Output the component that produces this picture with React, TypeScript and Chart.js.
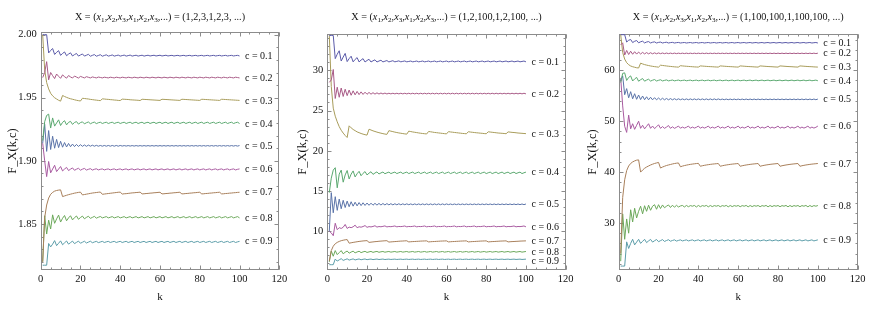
import React, { useEffect, useRef } from "react";
import { Chart, registerables } from "chart.js";

Chart.register(...registerables);

// ---------- data (k = 1..100) ----------
const P1_C01 = [
  2.0, 2.0, 2.0, 1.9855, 1.9875, 1.989, 1.9843, 1.986, 1.9873, 1.9836,
  1.9851, 1.9863, 1.9833, 1.9846, 1.9856, 1.9831, 1.9842, 1.9851, 1.983, 1.9839,
  1.9847, 1.983, 1.9837, 1.9844, 1.9829, 1.9836, 1.9842, 1.9829, 1.9835, 1.9841,
  1.9829, 1.9835, 1.984, 1.983, 1.9834, 1.9839, 1.983, 1.9834, 1.9838, 1.983,
  1.9834, 1.9838, 1.983, 1.9834, 1.9838, 1.983, 1.9834, 1.9837, 1.983, 1.9834,
  1.9837, 1.983, 1.9834, 1.9837, 1.9831, 1.9834, 1.9837, 1.9831, 1.9834, 1.9837,
  1.9831, 1.9834, 1.9837, 1.9831, 1.9834, 1.9836, 1.9831, 1.9834, 1.9836, 1.9831,
  1.9834, 1.9836, 1.9831, 1.9834, 1.9836, 1.9831, 1.9834, 1.9836, 1.9831, 1.9834,
  1.9836, 1.9831, 1.9834, 1.9836, 1.9831, 1.9834, 1.9836, 1.9831, 1.9834, 1.9836,
  1.9831, 1.9834, 1.9836, 1.9831, 1.9834, 1.9836, 1.9831, 1.9834, 1.9836, 1.9831,
];
const P1_C02 = [
  1.966, 1.97, 1.9786, 1.9642, 1.97, 1.9675, 1.9652, 1.9688, 1.967, 1.9654,
  1.9681, 1.9667, 1.9655, 1.9676, 1.9665, 1.9656, 1.9672, 1.9664, 1.9656, 1.9669,
  1.9663, 1.9657, 1.9667, 1.9662, 1.9657, 1.9665, 1.9661, 1.9657, 1.9664, 1.9661,
  1.9657, 1.9663, 1.966, 1.9657, 1.9663, 1.966, 1.9657, 1.9663, 1.966, 1.9657,
  1.9663, 1.966, 1.9657, 1.9663, 1.966, 1.9657, 1.9663, 1.966, 1.9657, 1.9663,
  1.966, 1.9657, 1.9663, 1.966, 1.9657, 1.9663, 1.966, 1.9657, 1.9663, 1.966,
  1.9657, 1.9663, 1.966, 1.9657, 1.9663, 1.966, 1.9657, 1.9663, 1.966, 1.9657,
  1.9663, 1.966, 1.9657, 1.9663, 1.966, 1.9657, 1.9663, 1.966, 1.9657, 1.9663,
  1.966, 1.9657, 1.9663, 1.966, 1.9657, 1.9663, 1.966, 1.9657, 1.9663, 1.966,
  1.9657, 1.9663, 1.966, 1.9657, 1.9663, 1.966, 1.9657, 1.9663, 1.966, 1.9657,
];
const P1_C03 = [
  2.0, 1.972, 1.962, 1.957, 1.9535, 1.9515, 1.95, 1.949, 1.948, 1.9473,
  1.9518, 1.951, 1.9503, 1.9497, 1.9492, 1.9488, 1.9484, 1.948, 1.9477, 1.9474,
  1.9496, 1.9494, 1.9492, 1.949, 1.9487, 1.9485, 1.9483, 1.9481, 1.9479, 1.9477,
  1.9491, 1.949, 1.9488, 1.9487, 1.9485, 1.9484, 1.9482, 1.9481, 1.9479, 1.9478,
  1.9489, 1.9488, 1.9487, 1.9486, 1.9484, 1.9483, 1.9482, 1.9481, 1.948, 1.9478,
  1.9488, 1.9487, 1.9486, 1.9485, 1.9484, 1.9483, 1.9482, 1.9481, 1.948, 1.9479,
  1.9488, 1.9487, 1.9486, 1.9485, 1.9484, 1.9483, 1.9482, 1.9481, 1.948, 1.9479,
  1.9488, 1.9487, 1.9486, 1.9485, 1.9484, 1.9483, 1.9482, 1.9481, 1.948, 1.9479,
  1.9488, 1.9487, 1.9486, 1.9485, 1.9484, 1.9483, 1.9482, 1.9481, 1.948, 1.9479,
  1.9488, 1.9487, 1.9486, 1.9485, 1.9484, 1.9483, 1.9482, 1.9481, 1.948, 1.9479,
];
const P1_C04 = [
  1.916, 1.931, 1.936, 1.937, 1.926, 1.934, 1.9275, 1.93, 1.9325, 1.928,
  1.9305, 1.9318, 1.9285, 1.9305, 1.9313, 1.9289, 1.9304, 1.9311, 1.9291, 1.9303,
  1.9309, 1.9293, 1.9302, 1.9308, 1.9294, 1.9302, 1.9307, 1.9295, 1.9302, 1.9306,
  1.9296, 1.9302, 1.9306, 1.9296, 1.9302, 1.9306, 1.9296, 1.9302, 1.9306, 1.9296,
  1.9302, 1.9306, 1.9296, 1.9302, 1.9306, 1.9296, 1.9302, 1.9306, 1.9296, 1.9302,
  1.9306, 1.9296, 1.9302, 1.9306, 1.9296, 1.9302, 1.9306, 1.9296, 1.9302, 1.9306,
  1.9296, 1.9302, 1.9306, 1.9296, 1.9302, 1.9306, 1.9296, 1.9302, 1.9306, 1.9296,
  1.9302, 1.9306, 1.9296, 1.9302, 1.9306, 1.9296, 1.9302, 1.9306, 1.9296, 1.9302,
  1.9306, 1.9296, 1.9302, 1.9306, 1.9296, 1.9302, 1.9306, 1.9296, 1.9302, 1.9306,
  1.9296, 1.9302, 1.9306, 1.9296, 1.9302, 1.9306, 1.9296, 1.9302, 1.9306, 1.9296,
];
const P1_C05 = [
  1.914, 1.929, 1.9075, 1.924, 1.909, 1.9195, 1.91, 1.917, 1.9105, 1.9155,
  1.9108, 1.9145, 1.911, 1.9138, 1.9112, 1.9133, 1.9113, 1.913, 1.9114, 1.9128,
  1.9115, 1.9126, 1.9115, 1.9125, 1.9116, 1.9124, 1.9116, 1.9123, 1.9116, 1.9122,
  1.9116, 1.9122, 1.9116, 1.9122, 1.9116, 1.9122, 1.9116, 1.9122, 1.9116, 1.9122,
  1.9117, 1.9121, 1.9117, 1.9121, 1.9117, 1.9121, 1.9117, 1.9121, 1.9117, 1.9121,
  1.9117, 1.9121, 1.9117, 1.9121, 1.9117, 1.9121, 1.9117, 1.9121, 1.9117, 1.9121,
  1.9117, 1.9121, 1.9117, 1.9121, 1.9117, 1.9121, 1.9117, 1.9121, 1.9117, 1.9121,
  1.9117, 1.9121, 1.9117, 1.9121, 1.9117, 1.9121, 1.9117, 1.9121, 1.9117, 1.9121,
  1.9117, 1.9121, 1.9117, 1.9121, 1.9117, 1.9121, 1.9117, 1.9121, 1.9117, 1.9121,
  1.9117, 1.9121, 1.9117, 1.9121, 1.9117, 1.9121, 1.9117, 1.9121, 1.9117, 1.9121,
];
const P1_C06 = [
  1.914, 1.9, 1.8875, 1.8995, 1.8905, 1.8935, 1.8965, 1.8915, 1.8935, 1.8955,
  1.892, 1.8935, 1.8948, 1.8923, 1.8934, 1.8944, 1.8925, 1.8934, 1.8941, 1.8926,
  1.8934, 1.894, 1.8927, 1.8933, 1.8938, 1.8927, 1.8933, 1.8937, 1.8928, 1.8933,
  1.8936, 1.8928, 1.8933, 1.8936, 1.8928, 1.8933, 1.8936, 1.8928, 1.8933, 1.8936,
  1.8928, 1.8933, 1.8936, 1.8928, 1.8933, 1.8936, 1.8928, 1.8933, 1.8936, 1.8928,
  1.8933, 1.8936, 1.8928, 1.8933, 1.8936, 1.8928, 1.8933, 1.8936, 1.8928, 1.8933,
  1.8936, 1.8928, 1.8933, 1.8936, 1.8928, 1.8933, 1.8936, 1.8928, 1.8933, 1.8936,
  1.8928, 1.8933, 1.8936, 1.8928, 1.8933, 1.8936, 1.8928, 1.8933, 1.8936, 1.8928,
  1.8933, 1.8936, 1.8928, 1.8933, 1.8936, 1.8928, 1.8933, 1.8936, 1.8928, 1.8933,
  1.8936, 1.8928, 1.8933, 1.8936, 1.8928, 1.8933, 1.8936, 1.8928, 1.8933, 1.8936,
];
const P1_C07 = [
  1.82, 1.855, 1.865, 1.8705, 1.8735, 1.875, 1.876, 1.8765, 1.8768, 1.877,
  1.8717, 1.8722, 1.8727, 1.8732, 1.8736, 1.874, 1.8744, 1.8747, 1.875, 1.8752,
  1.873, 1.8733, 1.8736, 1.8739, 1.8742, 1.8745, 1.8747, 1.8749, 1.8751, 1.8753,
  1.8735, 1.8737, 1.8739, 1.8741, 1.8743, 1.8745, 1.8747, 1.8749, 1.8751, 1.8752,
  1.8737, 1.8739, 1.874, 1.8742, 1.8744, 1.8746, 1.8747, 1.8749, 1.875, 1.8752,
  1.8738, 1.8739, 1.8741, 1.8742, 1.8744, 1.8745, 1.8747, 1.8748, 1.875, 1.8751,
  1.8738, 1.8739, 1.8741, 1.8742, 1.8744, 1.8745, 1.8747, 1.8748, 1.875, 1.8751,
  1.8738, 1.8739, 1.8741, 1.8742, 1.8744, 1.8745, 1.8747, 1.8748, 1.875, 1.8751,
  1.8738, 1.8739, 1.8741, 1.8742, 1.8744, 1.8745, 1.8747, 1.8748, 1.875, 1.8751,
  1.8738, 1.8739, 1.8741, 1.8742, 1.8744, 1.8745, 1.8747, 1.8748, 1.875, 1.8751,
];
const P1_C08 = [
  1.82, 1.8565, 1.842, 1.853, 1.846, 1.8572, 1.8505, 1.854, 1.857, 1.8515,
  1.8545, 1.8567, 1.8525, 1.8548, 1.8565, 1.8532, 1.855, 1.8563, 1.8537, 1.8551,
  1.8562, 1.8541, 1.8552, 1.8561, 1.8544, 1.8552, 1.856, 1.8546, 1.8553, 1.8559,
  1.8548, 1.8553, 1.8558, 1.8548, 1.8553, 1.8558, 1.8548, 1.8553, 1.8558, 1.8548,
  1.8553, 1.8558, 1.8548, 1.8553, 1.8558, 1.8548, 1.8553, 1.8558, 1.8548, 1.8553,
  1.8558, 1.8548, 1.8553, 1.8558, 1.8548, 1.8553, 1.8558, 1.8548, 1.8553, 1.8558,
  1.8548, 1.8553, 1.8558, 1.8548, 1.8553, 1.8558, 1.8548, 1.8553, 1.8558, 1.8548,
  1.8553, 1.8558, 1.8548, 1.8553, 1.8558, 1.8548, 1.8553, 1.8558, 1.8548, 1.8553,
  1.8558, 1.8548, 1.8553, 1.8558, 1.8548, 1.8553, 1.8558, 1.8548, 1.8553, 1.8558,
  1.8548, 1.8553, 1.8558, 1.8548, 1.8553, 1.8558, 1.8548, 1.8553, 1.8558, 1.8548,
];
const P1_C09 = [
  1.8173, 1.8173, 1.8173, 1.8345, 1.8318, 1.834, 1.8368, 1.8328, 1.8347, 1.8366,
  1.8335, 1.835, 1.8365, 1.834, 1.8352, 1.8364, 1.8344, 1.8354, 1.8364, 1.8347,
  1.8355, 1.8363, 1.8349, 1.8356, 1.8363, 1.8351, 1.8357, 1.8362, 1.8352, 1.8357,
  1.8362, 1.8353, 1.8358, 1.8362, 1.8353, 1.8358, 1.8362, 1.8353, 1.8358, 1.8362,
  1.8353, 1.8358, 1.8362, 1.8353, 1.8358, 1.8362, 1.8353, 1.8358, 1.8362, 1.8353,
  1.8358, 1.8362, 1.8353, 1.8358, 1.8362, 1.8353, 1.8358, 1.8362, 1.8353, 1.8358,
  1.8362, 1.8353, 1.8358, 1.8362, 1.8353, 1.8358, 1.8362, 1.8353, 1.8358, 1.8362,
  1.8353, 1.8358, 1.8362, 1.8353, 1.8358, 1.8362, 1.8353, 1.8358, 1.8362, 1.8353,
  1.8358, 1.8362, 1.8353, 1.8358, 1.8362, 1.8353, 1.8358, 1.8362, 1.8353, 1.8358,
  1.8362, 1.8353, 1.8358, 1.8362, 1.8353, 1.8358, 1.8362, 1.8353, 1.8358, 1.8362,
];

const P2_C01 = [
  34.33, 34.33, 34.33, 31.45, 32.0, 32.43, 31.15, 31.65, 32.1, 31.08,
  31.45, 31.75, 31.05, 31.35, 31.58, 31.04, 31.27, 31.45, 31.03, 31.22,
  31.37, 31.03, 31.18, 31.3, 31.03, 31.15, 31.25, 31.04, 31.13, 31.21,
  31.04, 31.12, 31.19, 31.05, 31.11, 31.17, 31.05, 31.11, 31.16, 31.05,
  31.1, 31.15, 31.05, 31.1, 31.15, 31.05, 31.1, 31.15, 31.05, 31.1,
  31.15, 31.05, 31.1, 31.15, 31.05, 31.1, 31.15, 31.05, 31.1, 31.15,
  31.05, 31.1, 31.15, 31.05, 31.1, 31.15, 31.05, 31.1, 31.15, 31.05,
  31.1, 31.15, 31.05, 31.1, 31.15, 31.05, 31.1, 31.15, 31.05, 31.1,
  31.15, 31.05, 31.1, 31.15, 31.05, 31.1, 31.15, 31.05, 31.1, 31.15,
  31.05, 31.1, 31.15, 31.05, 31.1, 31.15, 31.05, 31.1, 31.15, 31.05,
];
const P2_C02 = [
  28.5, 28.8, 30.1, 26.5, 27.9, 26.65, 27.8, 26.75, 27.65, 26.85,
  27.55, 26.9, 27.45, 26.95, 27.38, 26.98, 27.32, 27.0, 27.28, 27.02,
  27.25, 27.03, 27.22, 27.04, 27.2, 27.05, 27.18, 27.06, 27.17, 27.06,
  27.15, 27.07, 27.15, 27.07, 27.15, 27.07, 27.15, 27.07, 27.15, 27.07,
  27.15, 27.07, 27.15, 27.07, 27.15, 27.07, 27.15, 27.07, 27.15, 27.07,
  27.15, 27.07, 27.15, 27.07, 27.15, 27.07, 27.15, 27.07, 27.15, 27.07,
  27.15, 27.07, 27.15, 27.07, 27.15, 27.07, 27.15, 27.07, 27.15, 27.07,
  27.15, 27.07, 27.15, 27.07, 27.15, 27.07, 27.15, 27.07, 27.15, 27.07,
  27.15, 27.07, 27.15, 27.07, 27.15, 27.07, 27.15, 27.07, 27.15, 27.07,
  27.15, 27.07, 27.15, 27.07, 27.15, 27.07, 27.15, 27.07, 27.15, 27.07,
];
const P2_C03 = [
  34.33, 28.0, 25.3, 24.3, 23.6, 23.0, 22.55, 22.2, 21.9, 21.65,
  23.1, 22.85, 22.65, 22.5, 22.35, 22.25, 22.15, 22.07, 22.0, 21.95,
  22.68, 22.58, 22.48, 22.4, 22.32, 22.25, 22.19, 22.13, 22.08, 22.04,
  22.5, 22.44, 22.38, 22.32, 22.27, 22.22, 22.18, 22.14, 22.1, 22.07,
  22.44, 22.39, 22.34, 22.3, 22.26, 22.22, 22.18, 22.15, 22.12, 22.09,
  22.4, 22.36, 22.32, 22.28, 22.25, 22.22, 22.19, 22.16, 22.13, 22.1,
  22.38, 22.34, 22.31, 22.28, 22.25, 22.22, 22.19, 22.16, 22.14, 22.11,
  22.37, 22.33, 22.3, 22.27, 22.24, 22.22, 22.19, 22.17, 22.14, 22.12,
  22.36, 22.33, 22.3, 22.27, 22.24, 22.21, 22.19, 22.17, 22.15, 22.12,
  22.35, 22.32, 22.29, 22.27, 22.24, 22.21, 22.19, 22.17, 22.15, 22.13,
];
const P2_C04 = [
  14.8, 16.6, 17.6, 17.9, 15.4, 17.1, 17.6, 16.1, 17.0, 17.55,
  16.5, 17.1, 17.5, 16.75, 17.15, 17.45, 16.9, 17.2, 17.42, 17.0,
  17.22, 17.4, 17.07, 17.24, 17.38, 17.12, 17.25, 17.36, 17.15, 17.26,
  17.35, 17.17, 17.27, 17.35, 17.17, 17.27, 17.35, 17.17, 17.27, 17.35,
  17.17, 17.27, 17.35, 17.17, 17.27, 17.35, 17.17, 17.27, 17.35, 17.17,
  17.27, 17.35, 17.17, 17.27, 17.35, 17.17, 17.27, 17.35, 17.17, 17.27,
  17.35, 17.17, 17.27, 17.35, 17.17, 17.27, 17.35, 17.17, 17.27, 17.35,
  17.17, 17.27, 17.35, 17.17, 17.27, 17.35, 17.17, 17.27, 17.35, 17.17,
  17.27, 17.35, 17.17, 17.27, 17.35, 17.17, 17.27, 17.35, 17.17, 17.27,
  17.35, 17.17, 17.27, 17.35, 17.17, 17.27, 17.35, 17.17, 17.27, 17.35,
];
const P2_C05 = [
  10.0, 14.8, 12.3, 14.3, 12.6, 14.0, 12.8, 13.85, 12.95, 13.75,
  13.05, 13.67, 13.12, 13.61, 13.16, 13.57, 13.19, 13.54, 13.21, 13.51,
  13.23, 13.49, 13.24, 13.47, 13.25, 13.46, 13.26, 13.45, 13.27, 13.44,
  13.28, 13.43, 13.28, 13.42, 13.29, 13.42, 13.29, 13.41, 13.3, 13.41,
  13.3, 13.4, 13.3, 13.4, 13.3, 13.4, 13.3, 13.4, 13.3, 13.4,
  13.3, 13.4, 13.3, 13.4, 13.3, 13.4, 13.3, 13.4, 13.3, 13.4,
  13.31, 13.39, 13.31, 13.39, 13.31, 13.39, 13.31, 13.39, 13.31, 13.39,
  13.31, 13.39, 13.31, 13.39, 13.31, 13.39, 13.31, 13.39, 13.31, 13.39,
  13.31, 13.39, 13.31, 13.39, 13.31, 13.39, 13.31, 13.39, 13.31, 13.39,
  13.31, 13.39, 13.31, 13.39, 13.31, 13.39, 13.31, 13.39, 13.31, 13.39,
];
const P2_C06 = [
  10.0, 9.8, 9.45, 11.0, 10.2, 10.45, 10.35, 10.5, 10.85, 10.35,
  10.52, 10.45, 10.56, 10.76, 10.44, 10.56, 10.51, 10.59, 10.71, 10.49,
  10.58, 10.54, 10.6, 10.69, 10.52, 10.59, 10.56, 10.61, 10.67, 10.54,
  10.59, 10.57, 10.61, 10.66, 10.55, 10.6, 10.58, 10.61, 10.66, 10.55,
  10.6, 10.58, 10.61, 10.66, 10.55, 10.6, 10.58, 10.61, 10.66, 10.55,
  10.6, 10.58, 10.61, 10.66, 10.55, 10.6, 10.58, 10.61, 10.66, 10.55,
  10.6, 10.58, 10.61, 10.66, 10.55, 10.6, 10.58, 10.61, 10.66, 10.55,
  10.6, 10.58, 10.61, 10.66, 10.55, 10.6, 10.58, 10.61, 10.66, 10.55,
  10.6, 10.58, 10.61, 10.66, 10.55, 10.6, 10.58, 10.61, 10.66, 10.55,
  10.6, 10.58, 10.61, 10.66, 10.55, 10.6, 10.58, 10.61, 10.66, 10.55,
];
const P2_C07 = [
  6.3, 7.6, 8.15, 8.45, 8.62, 8.74, 8.83, 8.89, 8.94, 8.97,
  8.52, 8.57, 8.62, 8.66, 8.7, 8.74, 8.77, 8.8, 8.82, 8.84,
  8.62, 8.65, 8.68, 8.71, 8.73, 8.76, 8.78, 8.8, 8.82, 8.83,
  8.66, 8.68, 8.7, 8.72, 8.74, 8.76, 8.78, 8.79, 8.81, 8.82,
  8.68, 8.7, 8.72, 8.73, 8.75, 8.76, 8.78, 8.79, 8.8, 8.81,
  8.68, 8.7, 8.72, 8.73, 8.75, 8.76, 8.78, 8.79, 8.8, 8.81,
  8.68, 8.7, 8.72, 8.73, 8.75, 8.76, 8.78, 8.79, 8.8, 8.81,
  8.68, 8.7, 8.72, 8.73, 8.75, 8.76, 8.78, 8.79, 8.8, 8.81,
  8.68, 8.7, 8.72, 8.73, 8.75, 8.76, 8.78, 8.79, 8.8, 8.81,
  8.68, 8.7, 8.72, 8.73, 8.75, 8.76, 8.78, 8.79, 8.8, 8.81,
];
const P2_C08 = [
  6.2, 7.55, 6.9, 7.6, 7.1, 7.35, 7.6, 7.2, 7.4, 7.55,
  7.28, 7.42, 7.53, 7.32, 7.43, 7.52, 7.35, 7.44, 7.51, 7.37,
  7.44, 7.5, 7.38, 7.45, 7.5, 7.39, 7.45, 7.49, 7.4, 7.45,
  7.49, 7.41, 7.45, 7.49, 7.41, 7.45, 7.49, 7.41, 7.45, 7.49,
  7.41, 7.45, 7.49, 7.41, 7.45, 7.49, 7.41, 7.45, 7.49, 7.41,
  7.45, 7.49, 7.41, 7.45, 7.49, 7.41, 7.45, 7.49, 7.41, 7.45,
  7.49, 7.41, 7.45, 7.49, 7.41, 7.45, 7.49, 7.41, 7.45, 7.49,
  7.41, 7.45, 7.49, 7.41, 7.45, 7.49, 7.41, 7.45, 7.49, 7.41,
  7.45, 7.49, 7.41, 7.45, 7.49, 7.41, 7.45, 7.49, 7.41, 7.45,
  7.49, 7.41, 7.45, 7.49, 7.41, 7.45, 7.49, 7.41, 7.45, 7.49,
];
const P2_C09 = [
  5.85, 5.85, 5.85, 6.55, 6.3, 6.45, 6.6, 6.38, 6.48, 6.58,
  6.42, 6.5, 6.57, 6.44, 6.51, 6.56, 6.46, 6.52, 6.56, 6.47,
  6.52, 6.55, 6.48, 6.52, 6.55, 6.49, 6.52, 6.55, 6.49, 6.52,
  6.54, 6.5, 6.52, 6.54, 6.5, 6.52, 6.54, 6.5, 6.52, 6.54,
  6.5, 6.52, 6.54, 6.5, 6.52, 6.54, 6.5, 6.52, 6.54, 6.5,
  6.52, 6.54, 6.5, 6.52, 6.54, 6.5, 6.52, 6.54, 6.5, 6.52,
  6.54, 6.5, 6.52, 6.54, 6.5, 6.52, 6.54, 6.5, 6.52, 6.54,
  6.5, 6.52, 6.54, 6.5, 6.52, 6.54, 6.5, 6.52, 6.54, 6.5,
  6.52, 6.54, 6.5, 6.52, 6.54, 6.5, 6.52, 6.54, 6.5, 6.52,
  6.54, 6.5, 6.52, 6.54, 6.5, 6.52, 6.54, 6.5, 6.52, 6.54,
];

const P3_C01 = [
  67.0, 67.0, 67.0, 65.55, 65.9, 66.05, 65.45, 65.7, 65.85, 65.4,
  65.6, 65.72, 65.38, 65.55, 65.64, 65.37, 65.51, 65.58, 65.36, 65.48,
  65.54, 65.36, 65.46, 65.51, 65.36, 65.44, 65.49, 65.36, 65.43, 65.47,
  65.36, 65.42, 65.46, 65.36, 65.42, 65.46, 65.36, 65.42, 65.46, 65.36,
  65.42, 65.46, 65.36, 65.42, 65.46, 65.36, 65.42, 65.46, 65.36, 65.42,
  65.46, 65.36, 65.42, 65.46, 65.36, 65.42, 65.46, 65.36, 65.42, 65.46,
  65.36, 65.42, 65.46, 65.36, 65.42, 65.46, 65.36, 65.42, 65.46, 65.36,
  65.42, 65.46, 65.36, 65.42, 65.46, 65.36, 65.42, 65.46, 65.36, 65.42,
  65.46, 65.36, 65.42, 65.46, 65.36, 65.42, 65.46, 65.36, 65.42, 65.46,
  65.36, 65.42, 65.46, 65.36, 65.42, 65.46, 65.36, 65.42, 65.46, 65.36,
];
const P3_C02 = [
  65.0, 65.4, 63.0, 63.9, 63.1, 63.75, 63.15, 63.65, 63.18, 63.58,
  63.2, 63.52, 63.22, 63.48, 63.23, 63.45, 63.24, 63.43, 63.25, 63.41,
  63.26, 63.4, 63.26, 63.39, 63.27, 63.38, 63.27, 63.38, 63.27, 63.37,
  63.28, 63.37, 63.28, 63.37, 63.28, 63.37, 63.28, 63.37, 63.28, 63.37,
  63.28, 63.37, 63.28, 63.37, 63.28, 63.37, 63.28, 63.37, 63.28, 63.37,
  63.28, 63.37, 63.28, 63.37, 63.28, 63.37, 63.28, 63.37, 63.28, 63.37,
  63.28, 63.37, 63.28, 63.37, 63.28, 63.37, 63.28, 63.37, 63.28, 63.37,
  63.28, 63.37, 63.28, 63.37, 63.28, 63.37, 63.28, 63.37, 63.28, 63.37,
  63.28, 63.37, 63.28, 63.37, 63.28, 63.37, 63.28, 63.37, 63.28, 63.37,
  63.28, 63.37, 63.28, 63.37, 63.28, 63.37, 63.28, 63.37, 63.28, 63.37,
];
const P3_C03 = [
  67.0, 63.5, 62.2, 61.5, 61.1, 60.85, 60.7, 60.6, 60.5, 60.45,
  61.4, 61.25, 61.12, 61.02, 60.93, 60.85, 60.78, 60.72, 60.67, 60.62,
  61.0, 60.95, 60.9, 60.85, 60.8, 60.76, 60.72, 60.68, 60.65, 60.62,
  60.9, 60.86, 60.82, 60.79, 60.76, 60.73, 60.7, 60.67, 60.65, 60.63,
  60.86, 60.83, 60.8, 60.77, 60.74, 60.72, 60.7, 60.67, 60.65, 60.63,
  60.86, 60.83, 60.8, 60.77, 60.74, 60.72, 60.7, 60.67, 60.65, 60.63,
  60.86, 60.83, 60.8, 60.77, 60.74, 60.72, 60.7, 60.67, 60.65, 60.63,
  60.86, 60.83, 60.8, 60.77, 60.74, 60.72, 60.7, 60.67, 60.65, 60.63,
  60.86, 60.83, 60.8, 60.77, 60.74, 60.72, 60.7, 60.67, 60.65, 60.63,
  60.86, 60.83, 60.8, 60.77, 60.74, 60.72, 60.7, 60.67, 60.65, 60.63,
];
const P3_C04 = [
  57.6, 59.4, 59.5, 58.0, 58.6, 58.9, 57.9, 58.3, 58.6, 57.85,
  58.15, 58.38, 57.86, 58.08, 58.25, 57.88, 58.05, 58.18, 57.9, 58.03,
  58.14, 57.91, 58.02, 58.11, 57.92, 58.01, 58.09, 57.93, 58.01, 58.08,
  57.94, 58.01, 58.07, 57.94, 58.01, 58.07, 57.94, 58.01, 58.07, 57.94,
  58.01, 58.07, 57.94, 58.01, 58.07, 57.94, 58.01, 58.07, 57.94, 58.01,
  58.07, 57.94, 58.01, 58.07, 57.94, 58.01, 58.07, 57.94, 58.01, 58.07,
  57.94, 58.01, 58.07, 57.94, 58.01, 58.07, 57.94, 58.01, 58.07, 57.94,
  58.01, 58.07, 57.94, 58.01, 58.07, 57.94, 58.01, 58.07, 57.94, 58.01,
  58.07, 57.94, 58.01, 58.07, 57.94, 58.01, 58.07, 57.94, 58.01, 58.07,
  57.94, 58.01, 58.07, 57.94, 58.01, 58.07, 57.94, 58.01, 58.07, 57.94,
];
const P3_C05 = [
  58.0, 58.9, 55.2, 56.4, 54.6, 55.8, 54.4, 55.4, 54.3, 55.15,
  54.25, 54.95, 54.22, 54.8, 54.2, 54.7, 54.2, 54.62, 54.2, 54.56,
  54.2, 54.51, 54.2, 54.47, 54.2, 54.44, 54.2, 54.42, 54.2, 54.4,
  54.21, 54.38, 54.21, 54.38, 54.21, 54.38, 54.21, 54.38, 54.21, 54.38,
  54.21, 54.38, 54.21, 54.38, 54.21, 54.38, 54.21, 54.38, 54.21, 54.38,
  54.22, 54.35, 54.22, 54.35, 54.22, 54.35, 54.22, 54.35, 54.22, 54.35,
  54.22, 54.35, 54.22, 54.35, 54.22, 54.35, 54.22, 54.35, 54.22, 54.35,
  54.22, 54.35, 54.22, 54.35, 54.22, 54.35, 54.22, 54.35, 54.22, 54.35,
  54.22, 54.35, 54.22, 54.35, 54.22, 54.35, 54.22, 54.35, 54.22, 54.35,
  54.22, 54.35, 54.22, 54.35, 54.22, 54.35, 54.22, 54.35, 54.22, 54.35,
];
const P3_C06 = [
  58.5, 53.0, 49.0, 47.8, 51.2, 48.5, 49.5, 48.4, 49.2, 50.0,
  48.6, 49.2, 48.5, 49.0, 49.5, 48.6, 49.05, 48.55, 48.9, 49.3,
  48.6, 48.95, 48.6, 48.85, 49.15, 48.6, 48.9, 48.6, 48.8, 49.05,
  48.62, 48.85, 48.65, 48.8, 49.05, 48.62, 48.85, 48.65, 48.8, 49.05,
  48.62, 48.85, 48.65, 48.8, 49.05, 48.62, 48.85, 48.65, 48.8, 49.05,
  48.62, 48.85, 48.65, 48.8, 49.05, 48.62, 48.85, 48.65, 48.8, 49.05,
  48.62, 48.85, 48.65, 48.8, 49.05, 48.62, 48.85, 48.65, 48.8, 49.05,
  48.62, 48.85, 48.65, 48.8, 49.05, 48.62, 48.85, 48.65, 48.8, 49.05,
  48.62, 48.85, 48.65, 48.8, 49.05, 48.62, 48.85, 48.65, 48.8, 49.05,
  48.62, 48.85, 48.65, 48.8, 49.05, 48.62, 48.85, 48.65, 48.8, 49.05,
];
const P3_C07 = [
  24.0, 35.0, 38.5, 40.3, 41.2, 41.7, 42.0, 42.2, 42.35, 42.4,
  40.0, 40.4, 40.75, 41.0, 41.2, 41.4, 41.55, 41.7, 41.8, 41.9,
  40.8, 41.0, 41.15, 41.3, 41.4, 41.5, 41.6, 41.68, 41.75, 41.8,
  41.05, 41.18, 41.28, 41.37, 41.45, 41.52, 41.58, 41.63, 41.68, 41.72,
  41.15, 41.25, 41.33, 41.4, 41.46, 41.52, 41.57, 41.61, 41.65, 41.69,
  41.15, 41.25, 41.33, 41.4, 41.46, 41.52, 41.57, 41.61, 41.65, 41.69,
  41.15, 41.25, 41.33, 41.4, 41.46, 41.52, 41.57, 41.61, 41.65, 41.69,
  41.15, 41.25, 41.33, 41.4, 41.46, 41.52, 41.57, 41.61, 41.65, 41.69,
  41.15, 41.25, 41.33, 41.4, 41.46, 41.52, 41.57, 41.61, 41.65, 41.69,
  41.15, 41.25, 41.33, 41.4, 41.46, 41.52, 41.57, 41.61, 41.65, 41.69,
];
const P3_C08 = [
  22.5, 31.8, 26.8, 30.8, 28.0, 32.6, 30.2, 32.9, 31.0, 32.3,
  33.3, 31.8, 33.4, 32.3, 33.5, 32.5, 33.3, 33.6, 32.7, 33.6,
  32.85, 33.55, 33.0, 33.3, 33.55, 33.05, 33.5, 33.1, 33.48, 33.15,
  33.35, 33.45, 33.15, 33.45, 33.2, 33.42, 33.3, 33.45, 33.15, 33.45,
  33.2, 33.42, 33.3, 33.45, 33.18, 33.44, 33.22, 33.42, 33.3, 33.44,
  33.2, 33.42, 33.3, 33.45, 33.18, 33.44, 33.22, 33.42, 33.3, 33.44,
  33.2, 33.42, 33.3, 33.45, 33.18, 33.44, 33.22, 33.42, 33.3, 33.44,
  33.2, 33.42, 33.3, 33.45, 33.18, 33.44, 33.22, 33.42, 33.3, 33.44,
  33.2, 33.42, 33.3, 33.45, 33.18, 33.44, 33.22, 33.42, 33.3, 33.44,
  33.2, 33.42, 33.3, 33.45, 33.18, 33.44, 33.22, 33.42, 33.3, 33.44,
];
const P3_C09 = [
  21.54, 21.54, 21.54, 26.3, 25.0, 26.0, 26.8, 25.7, 26.25, 26.8,
  26.0, 26.4, 26.8, 26.15, 26.48, 26.78, 26.25, 26.52, 26.76, 26.33,
  26.54, 26.74, 26.38, 26.56, 26.72, 26.42, 26.57, 26.7, 26.45, 26.58,
  26.69, 26.48, 26.59, 26.69, 26.48, 26.59, 26.69, 26.48, 26.59, 26.69,
  26.48, 26.59, 26.69, 26.48, 26.59, 26.69, 26.48, 26.59, 26.69, 26.48,
  26.59, 26.69, 26.48, 26.59, 26.69, 26.48, 26.59, 26.69, 26.48, 26.59,
  26.69, 26.48, 26.59, 26.69, 26.48, 26.59, 26.69, 26.48, 26.59, 26.69,
  26.48, 26.59, 26.69, 26.48, 26.59, 26.69, 26.48, 26.59, 26.69, 26.48,
  26.59, 26.69, 26.48, 26.59, 26.69, 26.48, 26.59, 26.69, 26.48, 26.59,
  26.69, 26.48, 26.59, 26.69, 26.48, 26.59, 26.69, 26.48, 26.59, 26.69,
];

const C_LABELS = ["c = 0.1", "c = 0.2", "c = 0.3", "c = 0.4", "c = 0.5", "c = 0.6", "c = 0.7", "c = 0.8", "c = 0.9"];

const P1_TITLE = "X = (x_1,x_2,x_3,x_1,x_2,x_3,...) = (1,2,3,1,2,3, ...)";
const P2_TITLE = "X = (x_1,x_2,x_3,x_1,x_2,x_3,...) = (1,2,100,1,2,100, ...)";
const P3_TITLE = "X = (x_1,x_2,x_3,x_1,x_2,x_3,...) = (1,100,100,1,100,100, ...)";

const X_TICKS = [0, 20, 40, 60, 80, 100, 120];
const P1_YTICKS = [1.85, 1.9, 1.95, 2.0];
const P2_YTICKS = [10, 15, 20, 25, 30];
const P3_YTICKS = [30, 40, 50, 60];

const Y_TITLE = "F_X(k,c)";
const X_TITLE = "k";

// ---------- styling ----------
const SERIES_COLORS = ["#5a5aa8", "#a85a86", "#a89c5a", "#5aa86f", "#5a73a8", "#a85aa0", "#a87f5a", "#6ba85a", "#5a9ca8"];
const SERIF = '"Liberation Serif", "Times New Roman", serif';
const TEXT_COLOR = "#111";
const FRAME_COLOR = "#8c8c8c";

const PANELS = [
  {
    series: [P1_C01, P1_C02, P1_C03, P1_C04, P1_C05, P1_C06, P1_C07, P1_C08, P1_C09],
    title: P1_TITLE, yTicks: P1_YTICKS, yMin: 1.8135, yMax: 2.0021, yMinor: 0.01, decimals: 2,
    canvasLeft: 0, canvasWidth: 290, axisWidth: 40.7, top: 32, padRight: 10.7,
  },
  {
    series: [P2_C01, P2_C02, P2_C03, P2_C04, P2_C05, P2_C06, P2_C07, P2_C08, P2_C09],
    title: P2_TITLE, yTicks: P2_YTICKS, yMin: 5.19, yMax: 34.51, yMinor: 1, decimals: 0,
    canvasLeft: 290, canvasWidth: 290, axisWidth: 37.3, top: 34, padRight: 14.3,
  },
  {
    series: [P3_C01, P3_C02, P3_C03, P3_C04, P3_C05, P3_C06, P3_C07, P3_C08, P3_C09],
    title: P3_TITLE, yTicks: P3_YTICKS, yMin: 20.77, yMax: 67.13, yMinor: 2, decimals: 0,
    canvasLeft: 580, canvasWidth: 292, axisWidth: 38.7, top: 34, padRight: 14.3,
  },
];

const HEIGHT = 313;
const X_AXIS_HEIGHT = 43;
const X_MINOR = 5;
const LABEL_GAP = 9.4;

function drawRichTitle(ctx: CanvasRenderingContext2D, text: string, cx: number, baseline: number, size: number) {
  const parts: { t: string; italic: boolean; sub: boolean }[] = [];
  let buf = "";
  for (let i = 0; i < text.length; i++) {
    if (text[i] === "x" && text[i + 1] === "_") {
      if (buf) parts.push({ t: buf, italic: false, sub: false });
      buf = "";
      parts.push({ t: "x", italic: true, sub: false });
      parts.push({ t: text[i + 2], italic: false, sub: true });
      i += 2;
    } else {
      buf += text[i];
    }
  }
  if (buf) parts.push({ t: buf, italic: false, sub: false });
  const fontOf = (p: any) => `${p.italic ? "italic " : ""}${p.sub ? size * 0.7 : size}px ${SERIF}`;
  let total = 0;
  const widths = parts.map((p) => {
    ctx.font = fontOf(p);
    const w = ctx.measureText(p.t).width;
    total += w;
    return w;
  });
  let x = cx - total / 2;
  ctx.fillStyle = TEXT_COLOR;
  ctx.textAlign = "left";
  ctx.textBaseline = "alphabetic";
  parts.forEach((p, i) => {
    ctx.font = fontOf(p);
    ctx.fillText(p.t, x, baseline + (p.sub ? size * 0.22 : 0));
    x += widths[i];
  });
}

function minorValues(min: number, max: number, step: number) {
  const out: number[] = [];
  const start = Math.ceil(min / step - 1e-9);
  const end = Math.floor(max / step + 1e-9);
  for (let i = start; i <= end; i++) out.push(i * step);
  return out;
}

function Panel({ p }: { p: any }) {
  const ref = useRef<HTMLCanvasElement>(null);
  useEffect(() => {
    const framePlugin = {
      id: "mmaFrame",
      beforeDatasetsDraw(chart: any) {
        const { ctx, chartArea: a, scales } = chart;
        const xs = scales.x;
        const ys = scales.y;
        ctx.save();
        ctx.strokeStyle = FRAME_COLOR;
        ctx.lineWidth = 1;
        const L = Math.round(a.left) + 0.5;
        const R = Math.round(a.right) - 0.5;
        const T = Math.round(a.top) + 0.5;
        const B = Math.round(a.bottom) - 0.5;
        ctx.strokeRect(L, T, R - L, B - T);
        ctx.beginPath();
        const xTick = (v: number, len: number) => {
          const px = Math.round(xs.getPixelForValue(v)) + 0.5;
          ctx.moveTo(px, B);
          ctx.lineTo(px, B - len);
          ctx.moveTo(px, T);
          ctx.lineTo(px, T + len);
        };
        const yTick = (v: number, len: number) => {
          const py = Math.round(ys.getPixelForValue(v)) + 0.5;
          ctx.moveTo(L, py);
          ctx.lineTo(L + len, py);
          ctx.moveTo(R, py);
          ctx.lineTo(R - len, py);
        };
        minorValues(0, 120, X_MINOR).forEach((v) => xTick(v, 2));
        X_TICKS.forEach((v) => xTick(v, 4));
        minorValues(p.yMin, p.yMax, p.yMinor).forEach((v) => yTick(v, 2));
        p.yTicks.forEach((v: number) => yTick(v, 4));
        ctx.stroke();
        ctx.restore();
      },
      afterDatasetsDraw(chart: any) {
        const { ctx, chartArea: a, scales } = chart;
        ctx.save();
        ctx.font = `10px ${SERIF}`;
        ctx.fillStyle = TEXT_COLOR;
        ctx.textAlign = "left";
        ctx.textBaseline = "middle";
        let prevY = -Infinity;
        chart.data.datasets.forEach((ds: any, i: number) => {
          const last = ds.data[ds.data.length - 1];
          const px = scales.x.getPixelForValue(last.x) + 5.5;
          let py = scales.y.getPixelForValue(last.y) + 0.5;
          if (py - prevY < LABEL_GAP) py = prevY + LABEL_GAP;
          prevY = py;
          ctx.fillText(C_LABELS[i], px, py);
        });
        drawRichTitle(ctx, p.title, (a.left + a.right) / 2, 20, 10.2);
        ctx.restore();
      },
    };

    const tickFont = { family: SERIF, size: 10.5 };
    const chart = new Chart(ref.current as HTMLCanvasElement, {
      type: "line",
      data: {
        datasets: p.series.map((vals: number[], i: number) => ({
          label: C_LABELS[i],
          data: vals.map((v, j) => ({ x: j + 1, y: v })),
          borderColor: SERIES_COLORS[i],
          backgroundColor: SERIES_COLORS[i],
          borderWidth: 1,
          borderJoinStyle: "round",
          pointRadius: 0,
          tension: 0,
          fill: false,
        })),
      },
      options: {
        responsive: false,
        animation: false,
        events: [],
        layout: { padding: { left: 0, right: p.padRight, top: p.top, bottom: 0 } },
        plugins: { legend: { display: false }, tooltip: { enabled: false }, title: { display: false } },
        scales: {
          x: {
            type: "linear",
            min: 0,
            max: 120,
            grid: { display: false, drawTicks: false },
            border: { display: false },
            afterBuildTicks: (s: any) => {
              s.ticks = X_TICKS.map((v) => ({ value: v }));
            },
            afterFit: (s: any) => {
              s.height = X_AXIS_HEIGHT;
              s.paddingLeft = 0;
              s.paddingRight = 0;
            },
            ticks: { font: tickFont, color: TEXT_COLOR, padding: 3, maxRotation: 0, autoSkip: false, callback: (v: any) => String(v) },
            title: { display: true, text: X_TITLE, font: { family: SERIF, size: 11 }, color: TEXT_COLOR, padding: { top: 0, bottom: 9.4 } },
          },
          y: {
            type: "linear",
            min: p.yMin,
            max: p.yMax,
            grid: { display: false, drawTicks: false },
            border: { display: false },
            afterBuildTicks: (s: any) => {
              s.ticks = p.yTicks.map((v: number) => ({ value: v }));
            },
            afterFit: (s: any) => {
              s.width = p.axisWidth;
              s.paddingTop = 0;
              s.paddingBottom = 0;
            },
            ticks: { font: tickFont, color: TEXT_COLOR, padding: 4, autoSkip: false, callback: (v: any) => Number(v).toFixed(p.decimals) },
            title: { display: true, text: Y_TITLE, font: { family: SERIF, size: 12.5 }, color: TEXT_COLOR, padding: { top: 5.5, bottom: 0 } },
          },
        },
      } as any,
      plugins: [framePlugin],
    } as any);
    return () => chart.destroy();
  }, []);
  return (
    <canvas
      ref={ref}
      width={p.canvasWidth}
      height={HEIGHT}
      style={{ position: "absolute", left: p.canvasLeft, top: 0, width: p.canvasWidth, height: HEIGHT }}
    />
  );
}

export default function App() {
  return (
    <div style={{ position: "fixed", left: 0, top: 0, width: 872, height: HEIGHT, background: "#fff", overflow: "hidden" }}>
      {PANELS.map((p, i) => (
        <Panel key={i} p={p} />
      ))}
    </div>
  );
}
